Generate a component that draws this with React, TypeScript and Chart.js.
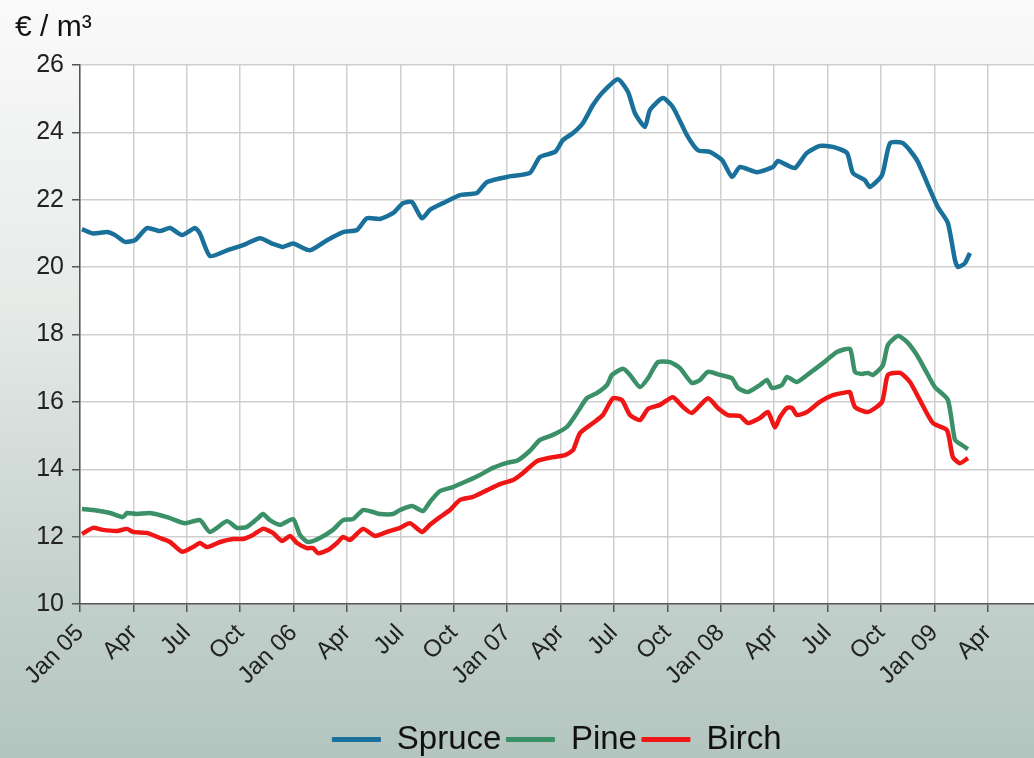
import React, { useEffect, useRef } from 'react';
import { Chart, registerables } from 'chart.js';

Chart.register(...registerables);

// Months since Jan 2005 (tick positions) and their labels
const tickMonths = [0, 3, 6, 9, 12, 15, 18, 21, 24, 27, 30, 33, 36, 39, 42, 45, 48, 51];
const tickLabels = [
  'Jan 05', 'Apr', 'Jul', 'Oct',
  'Jan 06', 'Apr', 'Jul', 'Oct',
  'Jan 07', 'Apr', 'Jul', 'Oct',
  'Jan 08', 'Apr', 'Jul', 'Oct',
  'Jan 09', 'Apr',
];
const yTicks = [10, 12, 14, 16, 18, 20, 22, 24, 26];

// Spruce (€/m³)
const spruceMonths = [
  0.11, 0.73, 1.52, 1.97, 2.53, 3.09, 3.76, 4.49, 5.06, 5.73, 6.46, 6.74, 7.3, 8.26, 9.16, 10.11,
  10.84, 11.4, 11.97, 12.92, 13.88, 14.78, 15.56, 16.12, 16.85, 17.58, 18.15, 18.65, 19.21, 19.66,
  20.39, 21.35, 22.3, 22.87, 24.21, 25.28, 25.84, 26.69, 27.13, 27.7, 28.26, 28.82, 29.38, 30.22,
  30.79, 31.18, 31.74, 32.02, 32.75, 33.31, 34.1, 34.72, 35.39, 36.07, 36.63, 37.08, 38.03, 38.93,
  39.21, 39.72, 40.17, 40.84, 41.57, 42.3, 43.09, 43.43, 44.1, 44.38, 45.06, 45.51, 46.24, 47.02,
  47.64, 48.2, 48.76, 49.16, 49.33, 49.72, 50.0,
];
const spruceValues = [
  21.13, 21.0, 21.04, 20.95, 20.75, 20.8, 21.16, 21.07, 21.16, 20.95, 21.16, 21.0, 20.33, 20.5, 20.65, 20.86,
  20.69, 20.6, 20.7, 20.5, 20.8, 21.04, 21.1, 21.45, 21.43, 21.6, 21.9, 21.93, 21.45, 21.7,
  21.9, 22.14, 22.2, 22.53, 22.7, 22.8, 23.27, 23.42, 23.77, 23.98, 24.28, 24.81, 25.2, 25.58,
  25.2, 24.57, 24.16, 24.66, 25.02, 24.75, 23.92, 23.47, 23.42, 23.18, 22.68, 22.97, 22.82, 22.97,
  23.15, 23.03, 22.94, 23.39, 23.6, 23.57, 23.39, 22.79, 22.58, 22.38, 22.73, 23.68, 23.68, 23.18,
  22.44, 21.78, 21.31, 20.21, 20.0, 20.12, 20.42,
];

// Pine (€/m³)
const pineMonths = [
  0.11, 0.73, 1.69, 2.42, 2.64, 3.2, 3.93, 4.89, 5.9, 6.74, 7.3, 8.26, 8.82, 9.38, 9.94, 10.28,
  10.67, 11.24, 11.97, 12.36, 12.81, 13.48, 14.21, 14.78, 15.34, 15.9, 16.46, 16.85, 17.58, 17.98,
  18.65, 19.27, 19.66, 20.22, 20.96, 21.74, 22.47, 23.2, 23.99, 24.61, 25.28, 25.84, 26.57, 27.36,
  27.92, 28.48, 29.04, 29.61, 29.89, 30.51, 30.9, 31.46, 31.91, 32.47, 33.15, 33.71, 34.38, 34.83,
  35.28, 35.96, 36.63, 36.97, 37.53, 38.2, 38.6, 38.88, 39.44, 39.72, 40.28, 41.01, 41.74, 42.53,
  43.26, 43.54, 43.93, 44.27, 44.55, 45.11, 45.39, 45.96, 46.46, 47.02, 47.58, 48.03, 48.76, 49.16,
  49.55, 49.89,
];
const pineValues = [
  12.82, 12.79, 12.7, 12.58, 12.7, 12.67, 12.7, 12.58, 12.4, 12.49, 12.14, 12.46, 12.26, 12.29, 12.52, 12.67,
  12.49, 12.35, 12.52, 12.05, 11.84, 11.96, 12.2, 12.49, 12.52, 12.79, 12.73, 12.67, 12.67, 12.79,
  12.91, 12.76, 13.03, 13.35, 13.47, 13.65, 13.83, 14.04, 14.19, 14.27, 14.55, 14.87, 15.02, 15.26,
  15.67, 16.11, 16.26, 16.5, 16.8, 16.98, 16.8, 16.44, 16.7, 17.18, 17.18, 17.0, 16.56, 16.65,
  16.89, 16.8, 16.7, 16.41, 16.29, 16.5, 16.65, 16.41, 16.5, 16.74, 16.59, 16.86, 17.15, 17.48,
  17.57, 16.89, 16.83, 16.86, 16.8, 17.09, 17.69, 17.96, 17.78, 17.39, 16.86, 16.44, 16.06, 14.87,
  14.72, 14.6,
];

// Birch (€/m³)
const birchMonths = [
  0.11, 0.73, 1.29, 2.08, 2.64, 2.98, 3.76, 4.49, 5.06, 5.73, 6.35, 6.74, 7.13, 7.87, 8.6, 9.16,
  9.72, 10.28, 10.84, 11.35, 11.8, 12.19, 12.75, 13.09, 13.37, 13.93, 14.44, 14.78, 15.17, 15.9,
  16.57, 17.25, 17.98, 18.54, 19.21, 19.66, 20.22, 20.79, 21.35, 22.08, 22.87, 23.6, 24.33, 24.89,
  25.67, 26.57, 27.25, 27.7, 28.09, 28.82, 29.38, 29.94, 30.45, 30.9, 31.46, 31.91, 32.58, 33.31,
  33.88, 34.38, 35.28, 35.84, 36.4, 37.08, 37.53, 38.2, 38.65, 39.04, 39.33, 39.72, 40.0, 40.28,
  40.84, 41.57, 42.3, 43.09, 43.26, 43.54, 44.27, 45.06, 45.39, 46.07, 46.63, 47.19, 47.92, 48.71,
  49.04, 49.44, 49.89,
];
const birchValues = [
  12.08, 12.26, 12.2, 12.17, 12.23, 12.14, 12.11, 11.96, 11.84, 11.55, 11.69, 11.81, 11.69, 11.84, 11.93, 11.93,
  12.05, 12.23, 12.11, 11.87, 12.02, 11.81, 11.66, 11.66, 11.51, 11.6, 11.81, 11.99, 11.9, 12.23,
  12.02, 12.14, 12.26, 12.4, 12.14, 12.35, 12.58, 12.79, 13.09, 13.18, 13.38, 13.56, 13.68, 13.89,
  14.24, 14.36, 14.42, 14.57, 15.07, 15.37, 15.61, 16.11, 16.05, 15.61, 15.46, 15.79, 15.91, 16.14,
  15.85, 15.67, 16.11, 15.82, 15.61, 15.58, 15.37, 15.52, 15.7, 15.25, 15.55, 15.82, 15.82, 15.61,
  15.7, 16.0, 16.2, 16.29, 16.29, 15.85, 15.7, 16.0, 16.8, 16.86, 16.59, 16.05, 15.37, 15.16,
  14.36, 14.18, 14.33,
];

const seriesNames = ['Spruce', 'Pine', 'Birch'];
const seriesColors = ['#19709a', '#3b9068', '#f01616'];

const FONT = "'Liberation Sans', Arial, Helvetica, sans-serif";

const toPoints = (xs: number[], ys: number[]) => xs.map((x, i) => ({ x, y: ys[i] }));

const bgPlugin = {
  id: 'bgPlugin',
  beforeDraw(chart: any) {
    const { ctx, width, height, chartArea } = chart;
    ctx.save();
    const g = ctx.createLinearGradient(0, 0, 0, height);
    g.addColorStop(0, '#fafafa');
    g.addColorStop(0.4, '#e6ebe8');
    g.addColorStop(0.78, '#c3d0cb');
    g.addColorStop(1, '#b4c5bf');
    ctx.fillStyle = g;
    ctx.fillRect(0, 0, width, height);
    ctx.fillStyle = '#ffffff';
    ctx.fillRect(chartArea.left, chartArea.top, chartArea.right - chartArea.left, chartArea.bottom - chartArea.top);
    ctx.restore();
  },
};

export default function App() {
  const ref = useRef<HTMLCanvasElement | null>(null);

  useEffect(() => {
    document.body.style.margin = '0';
    const canvas = ref.current;
    if (!canvas) return;
    const datasets = [
      toPoints(spruceMonths, spruceValues),
      toPoints(pineMonths, pineValues),
      toPoints(birchMonths, birchValues),
    ].map((data, i) => ({
      label: seriesNames[i],
      data,
      borderColor: seriesColors[i],
      backgroundColor: seriesColors[i],
      borderWidth: 4.5,
      pointRadius: 0,
      tension: 0.2,
      fill: false,
    }));

    const chart = new Chart(canvas, {
      type: 'line',
      data: { datasets },
      plugins: [bgPlugin],
      options: {
        animation: false,
        responsive: false,
        devicePixelRatio: 1,
        layout: { padding: { left: 15, right: 0, top: 0, bottom: -8 } },
        plugins: {
          tooltip: { enabled: false },
          title: {
            display: true,
            text: '€ / m³',
            align: 'start',
            color: '#111',
            font: { family: FONT, size: 30, weight: 'normal' },
            padding: { top: 10, bottom: 19 },
          },
          legend: {
            position: 'bottom',
            fullSize: false,
            labels: {
              color: '#111',
              font: { family: FONT, size: 33 },
              boxWidth: 48,
              boxHeight: 4,
              padding: 5,
              generateLabels: (chart: any) =>
                Chart.defaults.plugins.legend.labels.generateLabels(chart).map((l: any) => ({ ...l, lineWidth: 1 })),
            },
          },
        },
        scales: {
          x: {
            type: 'linear',
            min: 0,
            max: 53.6,
            afterBuildTicks: (scale: any) => {
              scale.ticks = tickMonths.map((v) => ({ value: v }));
            },
            afterFit: (scale: any) => {
              scale.height = 114;
            },
            ticks: {
              autoSkip: false,
              maxRotation: 45,
              minRotation: 45,
              color: '#222',
              font: { family: FONT, size: 24 },
              padding: 7,
              callback: (v: any) => {
                const i = tickMonths.indexOf(Number(v));
                return i >= 0 ? tickLabels[i] : '';
              },
            },
            grid: { color: '#cfcfcf', lineWidth: 1.5, tickColor: '#555', tickLength: 8 },
            border: { color: '#555', width: 1.5 },
          },
          y: {
            min: 10,
            max: 26,
            afterBuildTicks: (scale: any) => {
              scale.ticks = yTicks.map((v) => ({ value: v }));
            },
            afterFit: (scale: any) => {
              scale.width = 65;
            },
            ticks: {
              color: '#222',
              font: { family: FONT, size: 25 },
              padding: 8,
            },
            grid: { color: '#cfcfcf', lineWidth: 1.5, tickColor: '#555', tickLength: 8 },
            border: { color: '#555', width: 1.5 },
          },
        },
      },
    });
    return () => chart.destroy();
  }, []);

  return (
    <div style={{ width: 1034, height: 758 }}>
      <canvas ref={ref} width={1034} height={758} style={{ display: 'block' }} />
    </div>
  );
}
